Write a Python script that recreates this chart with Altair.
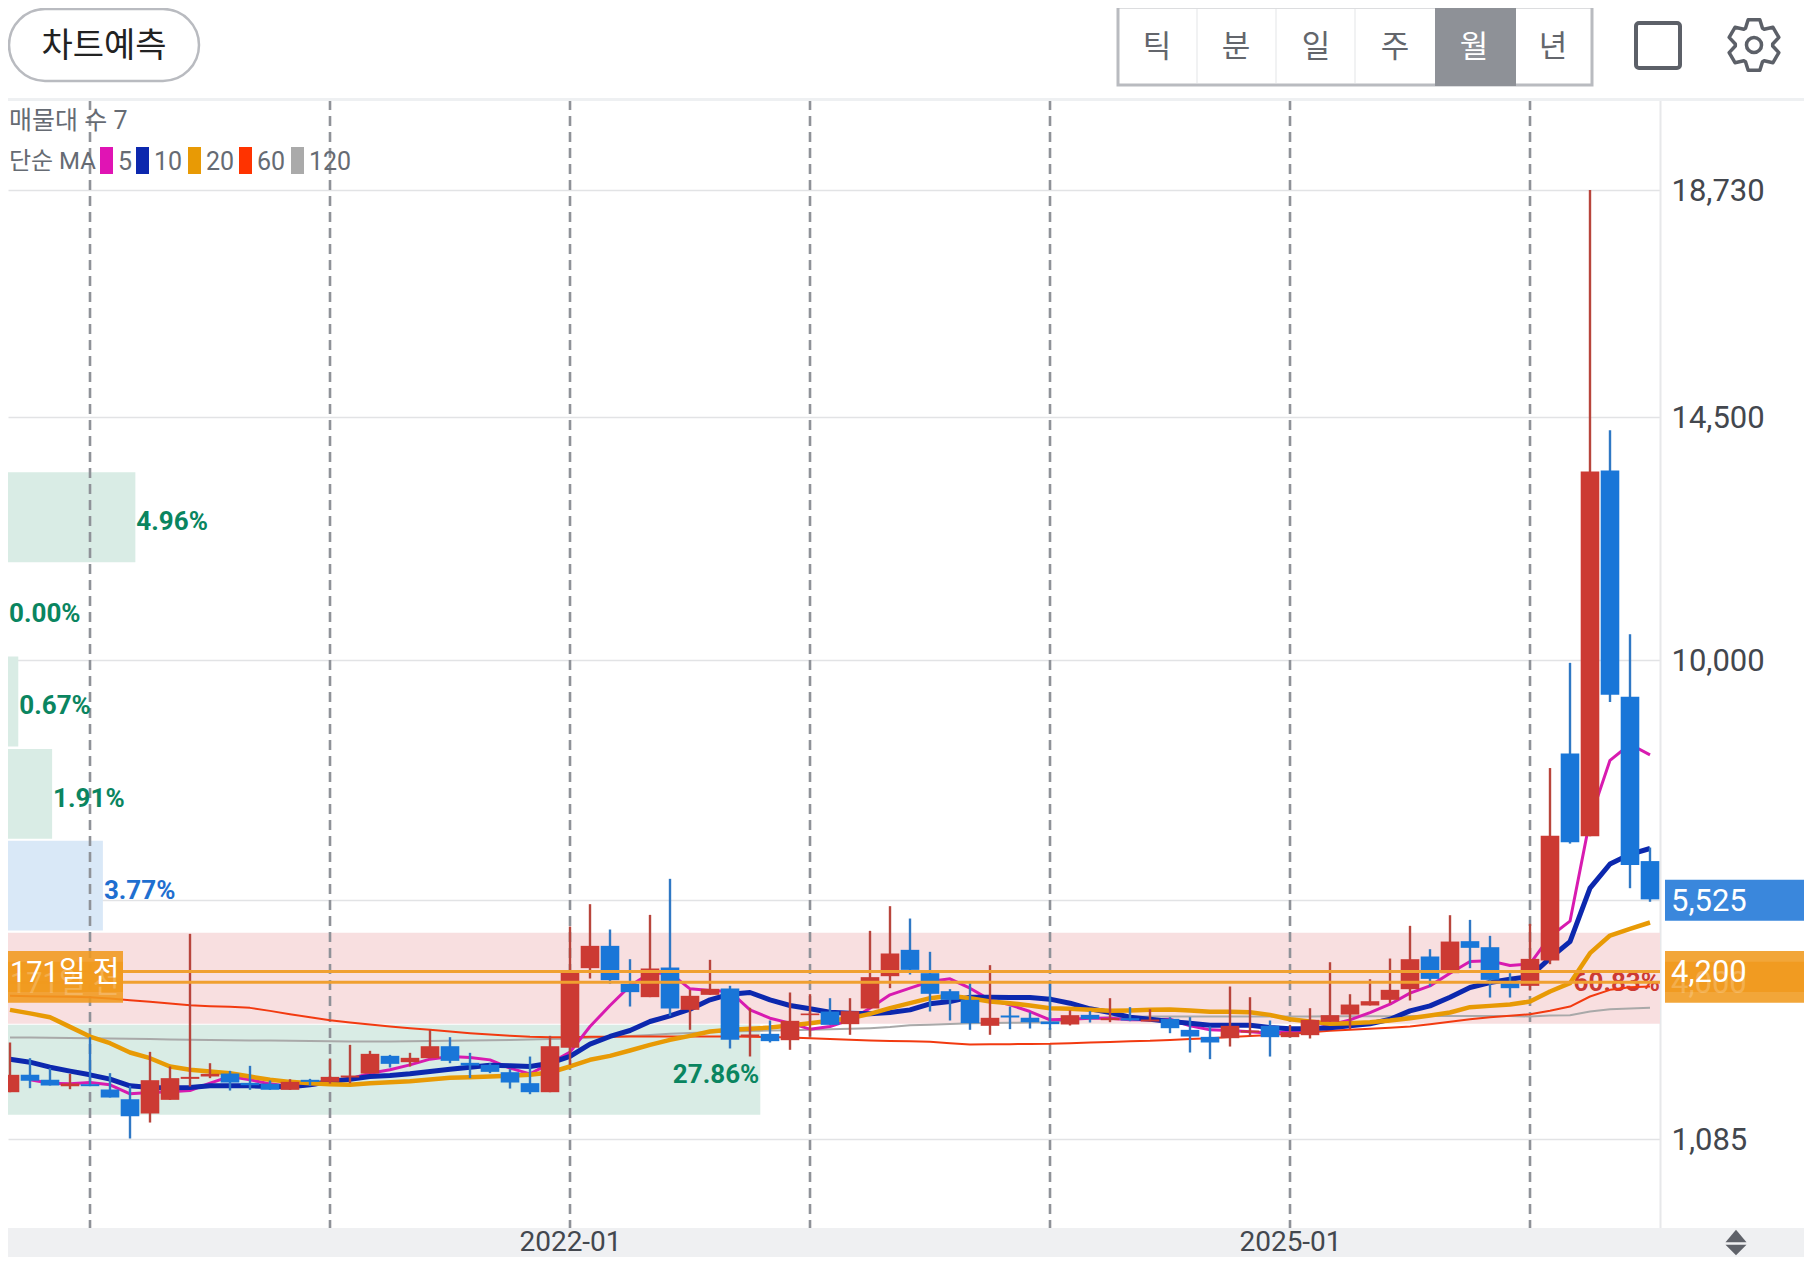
import math
import altair as alt
import pandas as pd

# ---------- chart values ----------
opens = [1955,2278,2185,2067,2104,2005,1825,1559,1813,2203,2247,2302,2129,2110,1999,2185,2147,2228,2302,2631,
         2513,2587,2810,2501,2463,2327,2123,1955,2780,4261,4676,3970,3722,4273,3486,3765,3883,2991,3040,2922,
         3387,3455,3220,3511,4112,4602,4168,3833,3672,3189,3381,3338,3269,3214,3393,3294,3331,3269,3319,3114,
         2984,2959,3065,3189,2978,3015,3263,3399,3567,3672,3870,4478,4168,4763,4651,3982,3932,4403,8253,6712,
         13515,9307,6252]
closes = [2278,2166,2079,2116,2067,1856,1509,2178,2216,2240,2296,2135,2085,1999,2147,2147,2240,2265,2668,2482,
          2594,2810,2538,2451,2333,2135,1955,2810,4180,4676,4038,3815,4255,3511,3747,3877,2929,3028,2904,3282,
          3418,3207,3462,4094,4534,4230,3784,3672,3238,3338,3344,3257,3220,3387,3313,3331,3288,3306,3145,2990,
          2879,3189,3102,2978,3071,3300,3387,3585,3647,3858,4428,4062,4756,4639,4044,3889,4434,6721,6604,13497,
          9343,6180,5540]
highs = [2879,2587,2402,2296,2978,2309,2073,2705,2432,4899,2494,2352,2445,2172,2197,2203,2581,2835,2724,2649,
         2687,3114,2978,2687,2494,2383,2618,3003,5035,5451,4980,4428,5252,5922,3858,4416,3933,3524,3288,3809,
         3778,3703,3703,4955,5414,5184,4565,3871,3982,4317,3548,3437,3982,3474,3462,3703,3536,3498,3350,3350,
         3176,3920,3721,3288,3207,3517,4372,3777,4056,4440,5048,4614,5246,5159,4862,4168,5085,7982,9938,18730,
         14263,10470,6504]
lows = [1955,2030,2079,2011,2067,1856,1094,1391,1813,2061,2216,1986,1999,1999,1999,2073,2116,2123,2302,2414,
        2432,2587,2494,2216,2309,2023,1918,1955,2463,4069,3970,3548,3722,3375,3115,3765,2768,2619,2879,2743,
        2991,3207,3022,3511,3889,4143,3455,3288,3115,3022,3127,3139,3115,3195,3251,3257,3276,3269,3052,2693,
        2569,2804,2990,2618,2978,2953,3263,3127,3567,3610,3660,3920,4168,4261,3715,3715,3845,4335,6577,6712,
        9208,5748,5495]

ma5 = [2185,2123,2110,2135,2092,1924,1949,1961,1986,2123,2247,2185,2110,2061,2086,2123,2203,2309,2371,2463,
       2569,2618,2600,2556,2402,2296,2494,2700,3176,3567,3933,4168,4168,3877,3846,3827,3486,3331,3239,3127,
       3176,3300,3517,3765,3889,4013,4063,3889,3672,3579,3455,3300,3310,3331,3331,3300,3300,3312,3189,3114,
       3102,3077,3052,3083,3114,3207,3300,3436,3591,3796,3932,4168,4385,4397,4310,4341,4850,5135,7027,8126,
       8424,8226]
ma10 = [2569,2513,2420,2346,2278,2197,2073,2042,2036,2042,2073,2073,2073,2061,2055,2092,2154,2197,2247,2265,
        2296,2340,2383,2420,2457,2445,2432,2494,2619,2848,2991,3102,3269,3375,3499,3672,3778,3809,3672,3567,
        3505,3443,3424,3412,3437,3486,3598,3641,3722,3722,3716,3716,3685,3610,3505,3437,3350,3312,3269,3238,
        3201,3201,3201,3158,3133,3133,3151,3189,3226,3312,3467,3560,3721,3901,3994,4056,4106,4447,4756,5748,
        6198,6378,6486]
ma20 = [3486,3420,3350,3170,2990,2866,2693,2587,2433,2371,2340,2309,2247,2185,2147,2123,2104,2092,2123,2141,
        2160,2191,2222,2234,2247,2259,2278,2321,2433,2557,2631,2730,2836,2929,3003,3084,3115,3133,3158,3195,
        3238,3282,3331,3412,3517,3610,3703,3747,3703,3641,3610,3567,3517,3505,3486,3468,3474,3486,3492,3474,
        3449,3449,3443,3393,3312,3269,3226,3238,3257,3288,3331,3381,3436,3536,3560,3585,3641,3827,3982,4540,
        4868,4992,5110]
ma60 = [3746,3740,3734,3728,3721,3697,3666,3635,3604,3573,3554,3542,3523,3467,3405,3350,3294,3251,3213,3176,
        3145,3114,3083,3052,3027,3003,2984,2978,2978,2985,2988,2990,2991,2991,2991,2991,2991,2985,2980,2972,
        2960,2945,2930,2916,2908,2900,2891,2865,2842,2845,2848,2851,2854,2866,2878,2890,2904,2910,2925,2942,
        2959,2980,3000,3020,3040,3068,3096,3115,3135,3155,3176,3220,3265,3310,3350,3378,3405,3470,3548,3734,
        3858,3907,3920]
ma120 = [2972,2970,2968,2965,2960,2955,2950,2945,2937,2930,2926,2922,2918,2914,2910,2905,2900,2897,2898,2899,
         2902,2906,2910,2915,2920,2927,2935,2942,2948,2965,2980,3000,3020,3040,3055,3070,3084,3092,3100,3108,
         3115,3125,3135,3146,3165,3201,3210,3225,3238,3243,3247,3250,3251,3300,3330,3350,3360,3362,3362,3362,
         3362,3362,3362,3362,3364,3364,3366,3366,3368,3368,3370,3370,3372,3372,3374,3372,3362,3380,3387,3455,
         3498,3510,3523]

band_low = [1534,3226,4960,6668,8384,10100,11810]
band_high = [3207,4918,6628,8338,10056,11770,13484]
band_pct = [27.86,60.83,3.77,1.91,0.67,0.00,4.96]
band_colors = ["#d9ece5","#f8dfe0","#d9e8f7","#d9ece5","#d9ece5","#d9ece5","#d9ece5"]
label_colors = ["#0a8560","#cc3a33","#1f6fd0","#0a8560","#0a8560","#0a8560","#0a8560"]

y_ticks = [1085,5525,10000,14500,18730]
year_ticks = [4,16,28,40,52,64,76]
year_labels = {28:"2022-01",64:"2025-01"}
level_prices = [4200,4000]
tabs = ["틱","분","일","주","월","년"]
legend_items = ["5","10","20","60","120"]
legend_colors = ["#e014b4","#0c28ae","#e89a05","#ff3300","#aaaaaa"]

# ---------- scales ----------
FONT = "Roboto, Noto Sans CJK KR, sans-serif"
xs = alt.Scale(domain=[-0.1,82.5], nice=False, zero=False, padding=0)
ys = alt.Scale(domain=[-570,20403], nice=False, zero=False)
OX, OY = 8, 100
RIGHT = 1804
one = pd.DataFrame({"a":[0]})

def X(name="i", **kw):
    return alt.X(f"{name}:Q", scale=xs, title=None, **kw)
def Y(name="p"):
    return alt.Y(f"{name}:Q", scale=ys, title=None)

def box(x0,y0,x1,y1,**mk):
    return alt.Chart(one).mark_rect(**mk).encode(
        x=alt.value(x0-OX),x2=alt.value(x1-OX),y=alt.value(y0-OY),y2=alt.value(y1-OY))
def txt(s,x,y,size,color,align="left",**mk):
    return alt.Chart(one).mark_text(text=s,font=FONT,fontSize=size,color=color,align=align,baseline="middle",**mk).encode(
        x=alt.value(x-OX),y=alt.value(y-OY))
def symbol(shape,x,y,size,**mk):
    return alt.Chart(one).mark_point(shape=shape,size=size,**mk).encode(x=alt.value(x-OX),y=alt.value(y-OY))

layers = []

# profile bands (1% of volume spans 1.3645 candles)
bands = pd.DataFrame({"lo":band_low,"hi":band_high,"pct":band_pct,"c":band_colors,"lc":label_colors})
bands["xe"] = (-0.5+bands.pct*1.3645).clip(lower=-0.1,upper=82.5)
bands["x0"] = -0.1
bands["mid"] = (bands.lo+bands.hi)/2
bands["label"] = bands.pct.map(lambda v:f"{v:.2f}%")
layers.append(alt.Chart(bands[bands.pct>0]).mark_rect().encode(
    x=X("x0",axis=alt.Axis(values=list(year_labels),labelExpr="datum.value==28?'2022-01':'2025-01'",
        grid=False,domain=False,ticks=False,labelFont=FONT,labelFontSize=28,labelColor="#43474e",
        labelPadding=0,zindex=2,labelFlush=False,labelOverlap=False)),
    x2="xe:Q",
    y=alt.Y("lo:Q",scale=ys,title=None,axis=alt.Axis(orient="right",values=y_ticks,
        labelExpr="datum.value==5525?'':format(datum.value,',')",grid=True,gridColor="#e2e3e5",gridWidth=1.5,
        domain=True,domainColor="#e7e8ea",domainWidth=2,ticks=False,labelFont=FONT,labelFontSize=31,
        labelColor="#43474e",labelPadding=11,labelOffset=1.5,labelOverlap=False,labelFlush=False)),
    y2="hi:Q",
    color=alt.Color("c:N",scale=None)))

# year separators
layers.append(alt.Chart(pd.DataFrame({"i":year_ticks})).mark_rule(color="#8f9298",strokeWidth=2.6,strokeDash=[10,6]).encode(x=X()))

# band labels
side = bands[(bands.pct<20)]
layers.append(alt.Chart(side).mark_text(font=FONT,fontSize=26,fontWeight="bold",align="left",baseline="middle",dx=1,dy=5).encode(
    x=X("xe"),y=Y("mid"),text="label:N",color=alt.Color("lc:N",scale=None)))
layers.append(alt.Chart(bands[bands.pct.between(20,40)]).mark_text(font=FONT,fontSize=26,fontWeight="bold",align="right",baseline="middle",dx=-1,dy=5).encode(
    x=X("xe"),y=Y("mid"),text="label:N",color=alt.Color("lc:N",scale=None)))
layers.append(alt.Chart(bands[bands.pct>40]).mark_text(font=FONT,fontSize=26,fontWeight="bold",align="right",baseline="middle",dy=5,dx=0).encode(
    x=X("xe"),y=Y("mid"),text="label:N",color=alt.Color("lc:N",scale=None)))

# moving averages
for vals,start,color,w in [(ma120,0,"#a9a9a9",2),(ma60,0,"#f23a10",2),(ma5,1,"#d81bb0",3),(ma10,0,"#0c28ae",5),(ma20,0,"#e89a05",4.5)]:
    d = pd.DataFrame({"i":range(start,start+len(vals)),"p":vals})
    layers.append(alt.Chart(d).mark_line(color=color,strokeWidth=w,strokeJoin="round").encode(x=X(),y=Y()))

# candles
cd = pd.DataFrame({"i":range(len(opens)),"o":opens,"c":closes,"h":highs,"l":lows})
cd["up"] = cd.c>=cd.o
layers.append(alt.Chart(cd).mark_rule(strokeWidth=2.4).encode(
    x=X(),y=Y("l"),y2="h:Q",color=alt.condition("datum.up",alt.value("#b8453c"),alt.value("#2f78c4"))))
layers.append(alt.Chart(cd).mark_bar(size=18.6,stroke=None).encode(
    x=X(),y=Y("o"),y2="c:Q",color=alt.condition("datum.up",alt.value("#cc3a33"),alt.value("#1976d8"))))

# price levels
lv = pd.DataFrame({"p":level_prices})
layers.append(alt.Chart(lv).mark_rule(color="#f0a030",strokeWidth=3).encode(y=Y()))

# right-hand boxes and the age flag
H = 381
for p in level_prices:
    d = pd.DataFrame({"a":[p+H],"b":[p-H]})
    layers.append(alt.Chart(d).mark_rect(color="#f09a1e",opacity=0.88).encode(
        x=alt.value(1665-OX),x2=alt.value(RIGHT),y=Y("a"),y2="b:Q"))
    layers.append(alt.Chart(d).mark_rect(color="#f09a1e",opacity=0.88).encode(
        x=alt.value(0),x2=alt.value(123-OX),y=Y("a"),y2="b:Q"))
d = pd.DataFrame({"a":[5525+381],"b":[5525-381]})
layers.append(alt.Chart(d).mark_rect(color="#3a87dc").encode(x=alt.value(1665-OX),x2=alt.value(RIGHT),y=Y("a"),y2="b:Q"))
tags = pd.DataFrame({"p":[5525,4200,4000],"t":["5,525","4,200","4,000"],"o":[1,1,0.2]})
layers.append(alt.Chart(tags).mark_text(font=FONT,fontSize=31,color="white",align="left",baseline="middle",dy=2).encode(
    x=alt.value(1671-OX),y=Y(),text="t:N",opacity=alt.Opacity("o:Q",scale=None)))
flags = pd.DataFrame({"p":[4200,4000],"t":["171일 전","171일 전"],"o":[1,0.2]})
layers.append(alt.Chart(flags).mark_text(font=FONT,fontSize=29,color="white",align="left",baseline="middle",dy=2).encode(
    x=alt.value(2),y=Y(),text="t:N",opacity=alt.Opacity("o:Q",scale=None)))

# indicator legend
layers.append(txt("매물대 수 7",9,121,25,"#666b73"))
layers.append(txt("단순 MA",9,162,24,"#666b73"))
for label,c,x0 in zip(legend_items,legend_colors,[100,136,188,239,291]):
    layers.append(box(x0,147,x0+13,174,color=c))
    layers.append(txt(label,x0+18,162,25,"#666b73"))

# bottom strip
layers.append(box(OX,1228,RIGHT,1257,color="#eff0f2"))
layers.append(symbol("M0,-0.6L1,0.6L-1,0.6Z",1736,1236,441,filled=True,color="#5f6269",opacity=1))
layers.append(symbol("M0,0.5L1,-0.5L-1,-0.5Z",1736,1250,441,filled=True,color="#5f6269",opacity=1))

# top bar
layers.append(box(OX,98,RIGHT,101,color="#eef0f2"))
layers.append(box(9,9,199,81,fill="white",stroke="#b9bbc0",strokeWidth=2.5,cornerRadius=36))
layers.append(txt("차트예측",104,47,34,"#222222",align="center"))
layers.append(box(1118,7,1592,85,fill="white",stroke="#b9bbc0",strokeWidth=3))
for x0 in [1197,1276,1355]:
    layers.append(box(x0-1,9,x0+1,83,color="#f1f2f3"))
layers.append(box(1435,6,1516,86,color="#8e9197"))
for t,cx in zip(tabs,[1157,1236,1316,1395,1474,1553]):
    layers.append(txt(t,cx,48,31,"white" if t=="월" else "#63666c",align="center"))
layers.append(box(1636,23,1680,68,fill="white",stroke="#5c6068",strokeWidth=4,cornerRadius=3))

# settings gear outline (six teeth)
pts = []
for k in range(6):
    a = math.radians(k*60-90)
    for off,r in [(-27,0.72),(-13,1.0),(13,1.0),(27,0.72)]:
        t = a+math.radians(off)
        pts.append(f"{r*math.cos(t):.3f},{r*math.sin(t):.3f}")
gear = "M"+"L".join(pts)+"Z"
layers.append(symbol(gear,1754,45,2700,filled=False,stroke="#5c6068",strokeWidth=3.5,strokeJoin="round",opacity=1))
layers.append(symbol("circle",1754,45,227,filled=False,stroke="#5c6068",strokeWidth=3.5,opacity=1))

chart = alt.layer(*layers).properties(
    width=1652,height=1128,
    autosize=alt.AutoSizeParams(type="none"),
    padding={"left":0,"top":92,"right":144,"bottom":29},
    background="white",
).configure_view(stroke=None)

chart.save("out.html", embed_options={"renderer": "svg", "actions": False})
